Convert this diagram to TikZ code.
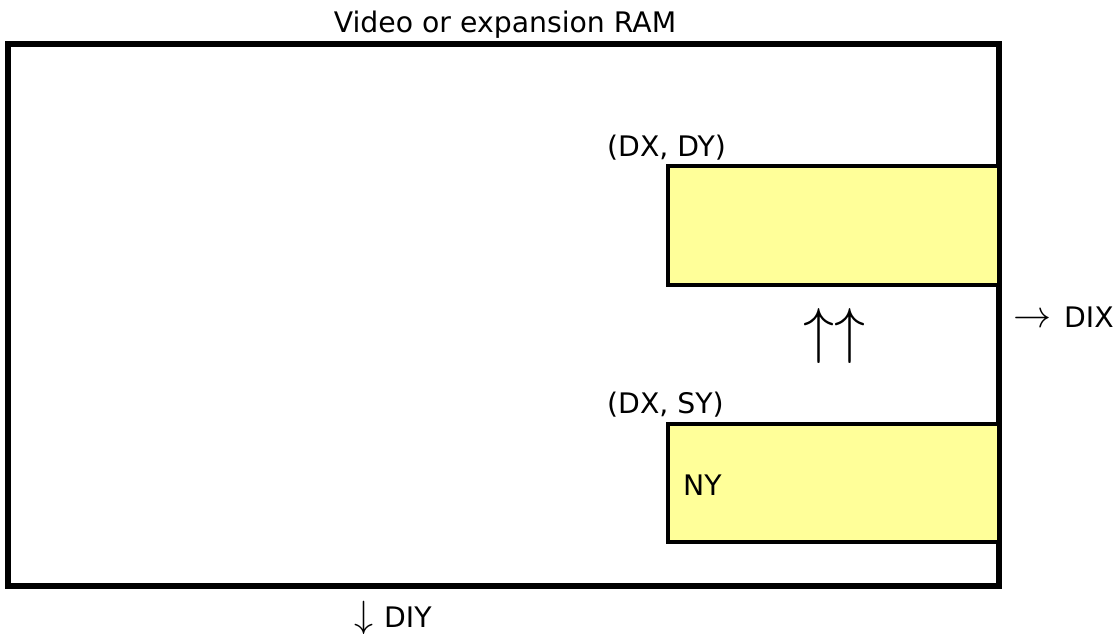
\documentclass[tikz,border=0pt]{standalone}
\usepackage{fontspec}
\usepackage{graphicx}
\setmainfont{DejaVu Sans}
\definecolor{paleyellow}{RGB}{255,255,153}
\newcommand{\bigarrow}[2]{\scalebox{#1}{\fontsize{10}{12}\selectfont$#2$}}
\tikzset{
  framebox/.style={draw=black, line width=6pt, rectangle, inner sep=0pt, fill=none},
  ybox/.style={draw=black, line width=4pt, fill=paleyellow, rectangle, inner sep=0pt},
  lbl/.style={anchor=base west, inner sep=0pt, font=\fontsize{28.3}{34}\selectfont},
}
\begin{document}
\begin{tikzpicture}[x=1pt,y=-1pt]
\useasboundingbox (0,0) rectangle (1120,634);
\node[framebox, minimum width=991pt, minimum height=541pt] (frame) at (503.5,315) {};
\node[ybox, minimum width=331pt, minimum height=119.5pt] (dst) at (833.5,225.25) {};
\node[ybox, minimum width=331pt, minimum height=118.5pt] (src) at (833.5,482.75) {};
\node[lbl, anchor=base] (title) at (505,33) {Video or expansion RAM};
\node[lbl] (dxdy) at (607,157) {(DX, DY)};
\node[lbl] (dxsy) at (607,413) {(DX, SY)};
\node[lbl] (ny) at (683,495) {NY};
\node[inner sep=0pt] (up) at (834,336) {\bigarrow{6.2}{\uparrow\uparrow}};
\node[lbl] (dix) at (1013,327) {\bigarrow{3.8}{\rightarrow}\hspace{4pt}\ DIX};
\node[lbl] (diy) at (354,627) {\bigarrow{3.8}{\downarrow}\hspace{2pt}\ DIY};
\end{tikzpicture}
\end{document}
